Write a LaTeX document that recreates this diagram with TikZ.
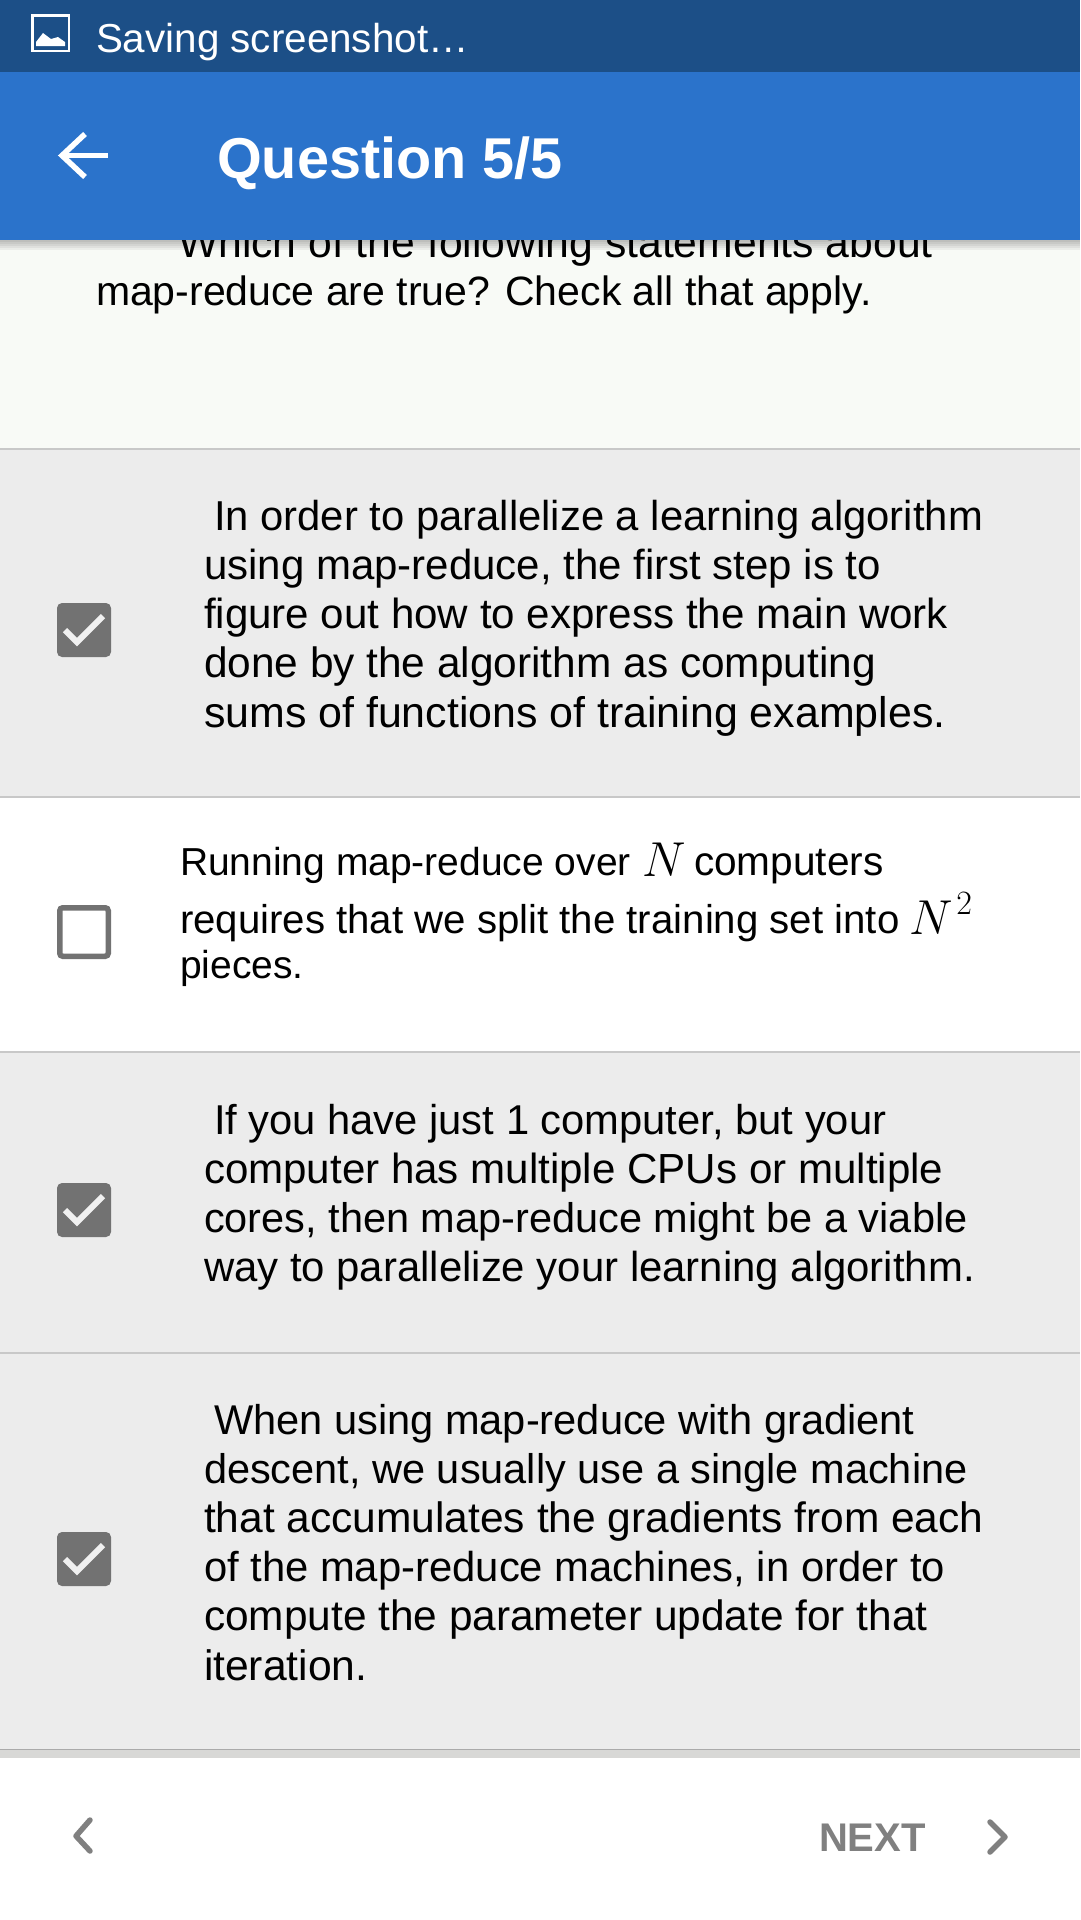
\documentclass[tikz,border=0pt]{standalone}
\usepackage[no-math]{fontspec}
\setmainfont{Liberation Sans}
\DeclareMathSizes{24.88}{24.88}{17.28}{12}
\definecolor{barDark}{HTML}{1C4F87}
\definecolor{barBlue}{HTML}{2B73CB}
\definecolor{headBg}{HTML}{F8FAF6}
\definecolor{rowGrey}{HTML}{ECECEC}
\definecolor{ruleGrey}{HTML}{C8C8C8}
\definecolor{footBand}{HTML}{D8D8D6}
\definecolor{boxGrey}{HTML}{727272}
\definecolor{navGrey}{HTML}{808080}
\definecolor{tickWhite}{HTML}{F0F0F0}
\newcommand{\fsz}[1]{\fontsize{#1}{45}\selectfont}
\tikzset{
  x=1pt,y=-1pt,
  txt/.style={anchor=base west,inner sep=0pt,outer sep=0pt,text=black},
  mathtxt/.style={txt,scale=1.97,font=\fsz{24.88}},
  rowrule/.style={ruleGrey,line width=2.5pt},
  checkon/.style={fill=boxGrey,rounded corners=5pt,draw=none},
  checkoff/.style={draw=boxGrey,line width=5.5pt,rounded corners=3pt,fill=none},
  tick/.style={draw=tickWhite,line width=6pt},
  nav/.style={draw=navGrey,line width=5.5pt,line cap=round,line join=round},
}
\begin{document}
\begin{tikzpicture}
\useasboundingbox (0,0) rectangle (1080,1920);
% backgrounds
\fill[white] (0,0) rectangle (1080,1920);
\fill[headBg] (0,240) rectangle (1080,448);
\fill[rowGrey] (0,449) rectangle (1080,796);
\fill[white] (0,798) rectangle (1080,1051);
\fill[rowGrey] (0,1053) rectangle (1080,1352);
\fill[rowGrey] (0,1354) rectangle (1080,1749);
\fill[footBand] (0,1749) rectangle (1080,1758);
\draw[rowrule] (0,449) -- (1080,449);
\draw[rowrule] (0,797) -- (1080,797);
\draw[rowrule] (0,1052) -- (1080,1052);
\draw[rowrule] (0,1353) -- (1080,1353);
\draw[ruleGrey!85!black,line width=1pt] (0,1749.5) -- (1080,1749.5);
% question text (first line runs under the bar)
\node[txt,font=\fsz{42.7}] (q1) at (178,257) {Which of the following statements about};
\node[txt,font=\fsz{41}] (q2) at (96,305) {map-reduce are true? Check all that apply.};
% bars
\foreach \i in {0,2,4,6,8}{\fill[black,opacity=0.05] (0,240) rectangle (1080,{240+10-\i});}
\fill[barDark] (0,0) rectangle (1080,72);
\fill[barBlue] (0,72) rectangle (1080,240);
% status icon
\draw[white,line width=2.5pt] (32.5,15.5) rectangle (69,51);
\fill[white] (36,46) -- (36,42) -- (43,33) -- (51,39) -- (58,37) -- (65,42) -- (65,46) -- cycle;
\node[txt,text=white,font=\fsz{40.4}] (status) at (96,52) {Saving screenshot…};
% back arrow
\coordinate (ba) at (62,155.5);
\draw[white,line width=5.5pt] (108,155.5) -- (ba);
\draw[white,line width=5.5pt] (85,134) -- (ba) -- (85,177);
\node[txt,text=white,font=\fontsize{57.6}{60}\bfseries\selectfont] (title) at (217,178.5) {Question 5/5};
% check boxes
\foreach \t in {603,1183,1532}{
  \fill[checkon] (57,\t) rectangle (111,{\t+54});
  \draw[tick] (65,{\t+27}) -- (77,{\t+39}) -- (103,{\t+13});
}
\draw[checkoff] (59.75,907.75) rectangle (108.25,956.25);
% row 1
\node[txt,font=\fsz{41.8}] (a1) at (214,530.5) {In order to parallelize a learning algorithm};
\node[txt,font=\fsz{42}] (a2) at (204,579.5) {using map-reduce, the first step is to};
\node[txt,font=\fsz{42.1}] (a3) at (204,628.5) {figure out how to express the main work};
\node[txt,font=\fsz{42.4}] (a4) at (204,677.5) {done by the algorithm as computing};
\node[txt,font=\fsz{42.9}] (a5) at (204,727) {sums of functions of training examples.};
% row 2
\node[txt,font=\fsz{39}] (b1) at (180,875) {Running map-reduce over};
\node[mathtxt] (b1n) at (642,876.5) {$N$};
\node[txt,font=\fsz{40.6}] (b1c) at (694,875) {computers};
\node[txt,font=\fsz{40.2}] (b2) at (180,933) {requires that we split the training set into};
\node[mathtxt] (b2n) at (909,934) {$N^{\mkern2mu\raisebox{1pt}{$\scriptstyle 2$}}$};
\node[txt,font=\fsz{39}] (b3) at (180,978) {pieces.};
% row 3
\node[txt,font=\fsz{41.7}] (c1) at (214,1134) {If you have just 1 computer, but your};
\node[txt,font=\fsz{42.1}] (c2) at (204,1183) {computer has multiple CPUs or multiple};
\node[txt,font=\fsz{41.5}] (c3) at (204,1232) {cores, then map-reduce might be a viable};
\node[txt,font=\fsz{41.9}] (c4) at (204,1281) {way to parallelize your learning algorithm.};
% row 4
\node[txt,font=\fsz{41.6}] (d1) at (214,1434) {When using map-reduce with gradient};
\node[txt,font=\fsz{41.5}] (d2) at (204,1483) {descent, we usually use a single machine};
\node[txt,font=\fsz{42.5}] (d3) at (204,1532.5) {that accumulates the gradients from each};
\node[txt,font=\fsz{41.8}] (d4) at (204,1581.5) {of the map-reduce machines, in order to};
\node[txt,font=\fsz{42.4}] (d5) at (204,1630.5) {compute the parameter update for that};
\node[txt,font=\fsz{42.6}] (d6) at (204,1680) {iteration.};
% footer
\draw[nav] (90,1820) -- (76,1836) -- (90,1851);
\node[txt,text=navGrey,font=\fontsize{40}{45}\bfseries\selectfont] (next) at (819,1851.5) {NEXT};
\draw[nav] (990,1822) -- (1005,1837) -- (990,1852);
\end{tikzpicture}
\end{document}
